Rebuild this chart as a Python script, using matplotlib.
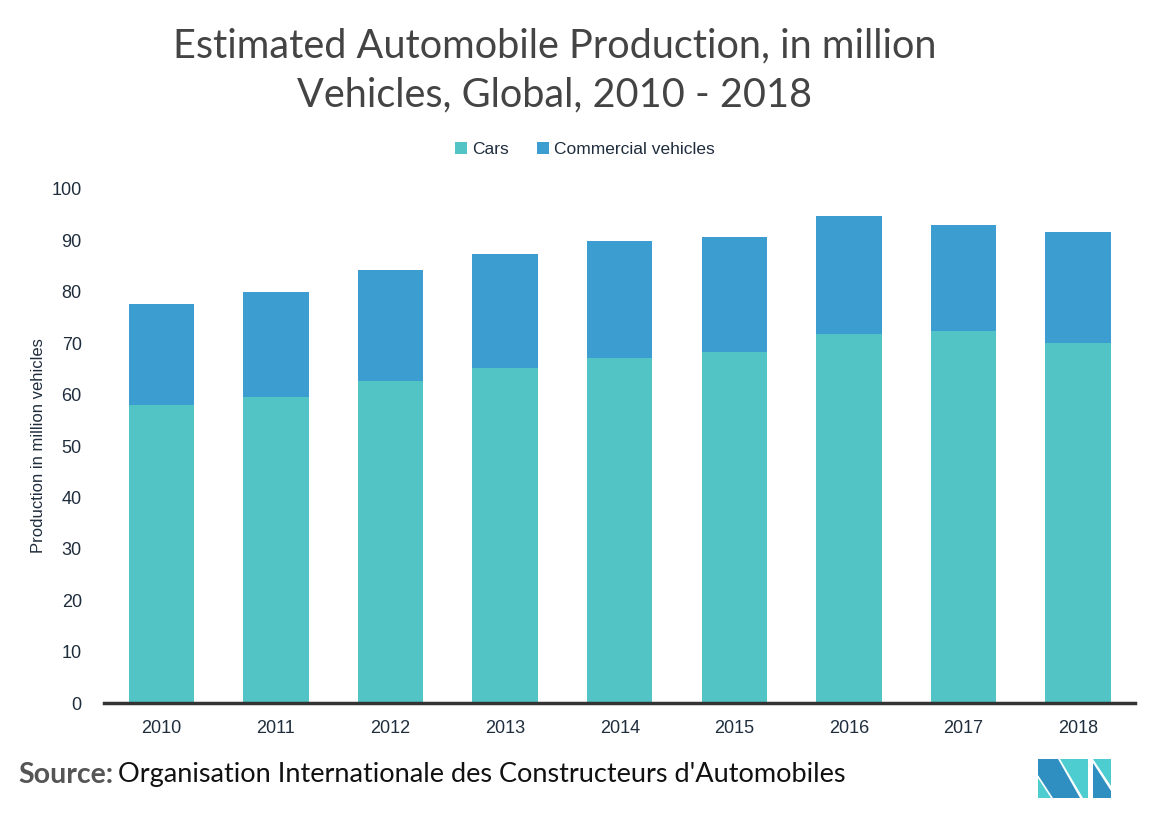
import matplotlib.pyplot as plt
from matplotlib.patches import Polygon

years = ["2010", "2011", "2012", "2013", "2014", "2015", "2016", "2017", "2018"]
cars = [58.0, 59.5, 62.6, 65.2, 67.1, 68.3, 71.8, 72.4, 70.0]
totals = [77.6, 80.0, 84.2, 87.4, 89.9, 90.7, 94.7, 93.0, 91.6]
commercial = [t - c for t, c in zip(totals, cars)]
yticks = [0, 10, 20, 30, 40, 50, 60, 70, 80, 90, 100]

CARS_COLOR = '#52C4C6'
COMM_COLOR = '#3C9DD0'
TICK_COLOR = '#1F2D3D'

plt.rcParams['font.family'] = ['Liberation Sans', 'DejaVu Sans']

fig = plt.figure(figsize=(11.61, 8.36), dpi=100)
ax = fig.add_axes([0.0896, 0.159, 0.8884, 0.615])

x = range(len(years))
ax.bar(x, cars, width=0.57, color=CARS_COLOR, label='Cars')
ax.bar(x, commercial, bottom=cars, width=0.57, color=COMM_COLOR, label='Commercial vehicles')

ax.set_xlim(-0.5, len(years) - 0.5)
ax.set_ylim(0, 100)
ax.set_yticks(yticks)
ax.set_xticks(list(x))
ax.set_xticklabels(years)
ax.tick_params(axis='both', length=0, labelsize=13, colors=TICK_COLOR)
ax.tick_params(axis='x', pad=12)
ax.tick_params(axis='y', pad=16)
for side in ['top', 'right', 'left']:
    ax.spines[side].set_visible(False)
ax.spines['bottom'].set_color('#333333')
ax.spines['bottom'].set_linewidth(2.5)
ax.set_ylabel('Production in million vehicles', fontsize=12, color=TICK_COLOR, labelpad=4)

ax.legend(loc='center', bbox_to_anchor=(0.466, 1.076), ncol=2, frameon=False,
          fontsize=12.5, handlelength=0.7, handleheight=0.7, handletextpad=0.3,
          columnspacing=1.6, labelcolor=TICK_COLOR)

fig.text(0.478, 0.916, 'Estimated Automobile Production, in million\nVehicles, Global, 2010 - 2018',
         ha='center', va='center', fontsize=28.5, color='#444444', family='Lato',
         linespacing=1.4)

t1 = fig.text(0.016, 0.073, 'Source:', fontsize=20.5, fontweight='bold', color='#555555',
              family='Lato', va='center')
fig.canvas.draw()
bb = t1.get_window_extent()
fig.text(bb.x1 / fig.bbox.width + 0.004, 0.073,
         "Organisation Internationale des Constructeurs d'Automobiles",
         fontsize=19.5, color='#111111', family='Lato', va='center')

# logo
def fx(px):
    return px / 1161

def fy(py):
    return 1 - py / 836

logo = [
    ([(1038, 759), (1058, 759), (1080, 798), (1053, 798), (1038, 775)], '#2E8FC0'),
    ([(1038, 778), (1051, 798), (1038, 798)], '#4ECDD0'),
    ([(1060, 759), (1088, 759), (1088, 798), (1083, 798)], '#4ECDD0'),
    ([(1093, 759), (1111, 759), (1111, 786)], '#4ECDD0'),
    ([(1093, 763), (1111, 791), (1111, 798), (1093, 798)], '#2E8FC0'),
]
for pts, col in logo:
    fig.patches.append(Polygon([(fx(a), fy(b)) for a, b in pts], closed=True,
                               transform=fig.transFigure, facecolor=col, edgecolor='none'))

plt.savefig('out.png', dpi=100)
